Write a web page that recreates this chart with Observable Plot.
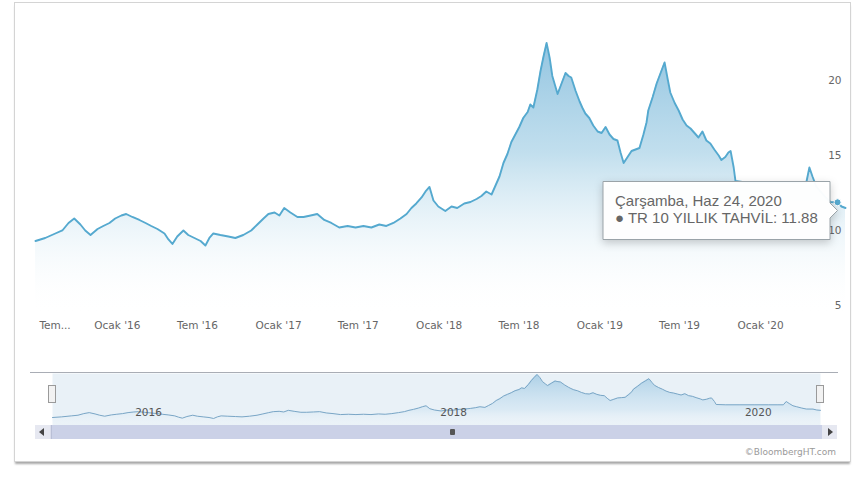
<!DOCTYPE html>
<html>
<head>
<meta charset="utf-8">
<script src="https://cdn.jsdelivr.net/npm/d3@7"></script>
<script src="https://cdn.jsdelivr.net/npm/@observablehq/plot@0.6"></script>
<style>
  html, body { margin: 0; padding: 0; background: #fff; }
  body { width: 857px; height: 483px; position: relative; overflow: hidden; font-family: "DejaVu Sans", sans-serif; }
  .abs { position: absolute; }
  #frame { left: 14px; top: 2px; width: 835px; height: 458px; border: 1px solid #d4d4d4; box-shadow: 0 3px 2px -1px #a8a8a8; }
  #main { left: 0; top: 0; }
  #nav { left: 0; top: 360px; }
  #navOutline { left: 30px; top: 372px; width: 808px; height: 52px; border-top: 1px solid #a9adb5; }
  .handle { width: 6px; height: 16px; top: 385px; background: #f2f2f2; border: 1px solid #9a9a9a; }
  #scroll { left: 35px; top: 425px; width: 802px; height: 14px; background: #d9dceb; }
  #thumb { left: 16px; top: 0; width: 770px; height: 14px; background: #cbd1e7; border-left: 1px solid #b9bfd6; border-right: 1px solid #b9bfd6; }
  .btn { top: 0; width: 15px; height: 14px; background: #e6e8f1; }
  .tri-l { left: 4px; top: 3px; width: 0; height: 0; border-top: 4px solid transparent; border-bottom: 4px solid transparent; border-right: 5px solid #444; }
  .tri-r { left: 6px; top: 3px; width: 0; height: 0; border-top: 4px solid transparent; border-bottom: 4px solid transparent; border-left: 5px solid #444; }
  #grip { left: 398px; top: 4px; width: 5px; height: 6px; background: #555; border-radius: 1px; }
  #credits { right: 21px; top: 447px; font-size: 9px; color: #9a9a9a; font-family: "DejaVu Sans", sans-serif; }
</style>
</head>
<body>
<div id="frame" class="abs"></div>
<div id="navOutline" class="abs"></div>
<div id="main" class="abs"></div>
<div id="nav" class="abs"></div>
<div class="abs handle" style="left:48px"></div>
<div class="abs handle" style="left:816px"></div>
<div id="scroll" class="abs">
  <div id="thumb" class="abs"><div id="grip" class="abs"></div></div>
  <div class="abs btn" style="left:0"><div class="abs tri-l"></div></div>
  <div class="abs btn" style="left:787px"><div class="abs tri-r"></div></div>
</div>
<div id="credits" class="abs">©BloombergHT.com</div>
<script>
// ---- Data: TR 10 YILLIK TAHVİL (%) ----
const dates = [
"2015-06-29","2015-07-21","2015-08-13","2015-08-29","2015-09-12","2015-09-25","2015-10-09","2015-10-20","2015-11-01","2015-11-17",
"2015-11-30","2015-12-14","2015-12-27","2016-01-10","2016-01-21","2016-02-04","2016-02-20","2016-03-05","2016-03-18","2016-04-01",
"2016-04-17","2016-04-26","2016-05-05","2016-05-16","2016-05-30","2016-06-10","2016-06-24","2016-07-08","2016-07-19","2016-07-28",
"2016-08-06","2016-08-22","2016-09-09","2016-09-25","2016-10-13","2016-10-31","2016-11-14","2016-11-28","2016-12-09","2016-12-23",
"2017-01-03","2017-01-14","2017-01-28","2017-02-13","2017-02-27","2017-03-15","2017-03-30","2017-04-15","2017-05-01","2017-05-19",
"2017-06-07","2017-06-25","2017-07-13","2017-07-31","2017-08-18","2017-09-03","2017-09-19","2017-10-05","2017-10-19","2017-10-30",
"2017-11-10","2017-11-22","2017-12-01","2017-12-10","2017-12-19","2017-12-30","2018-01-15","2018-01-29","2018-02-11","2018-02-27",
"2018-03-13","2018-03-27","2018-04-07","2018-04-18","2018-04-30","2018-05-09","2018-05-18","2018-05-27","2018-06-05","2018-06-14",
"2018-06-23","2018-07-02","2018-07-11","2018-07-21","2018-07-27","2018-08-03","2018-08-12","2018-08-19","2018-08-26","2018-09-02",
"2018-09-09","2018-09-15","2018-09-22","2018-09-27","2018-10-06","2018-10-15","2018-10-22","2018-10-28","2018-11-07","2018-11-16",
"2018-11-22","2018-11-29","2018-12-08","2018-12-17","2018-12-27","2019-01-05","2019-01-14","2019-01-23","2019-02-01","2019-02-10",
"2019-02-17","2019-02-24","2019-03-05","2019-03-14","2019-03-23","2019-04-01","2019-04-10","2019-04-17","2019-04-21","2019-05-01",
"2019-05-10","2019-05-19","2019-05-28","2019-06-04","2019-06-10","2019-06-20","2019-06-29","2019-07-08","2019-07-17","2019-07-26",
"2019-08-04","2019-08-13","2019-08-22","2019-08-31","2019-09-09","2019-09-18","2019-09-28","2019-10-04","2019-10-13","2019-10-20",
"2019-10-25","2019-11-01","2019-11-05","2019-11-28","2020-01-01","2020-02-04","2020-03-09","2020-04-01","2020-04-14","2020-04-21",
"2020-04-28","2020-05-07","2020-05-16","2020-05-28","2020-06-08","2020-06-24","2020-07-03","2020-07-12"
];
const values = [
9.3,9.5,9.8,10.0,10.5,10.8,10.4,10.0,9.7,10.1,
10.3,10.5,10.8,11.0,11.1,10.9,10.7,10.5,10.3,10.1,
9.8,9.4,9.1,9.6,10.0,9.7,9.5,9.3,9.0,9.5,
9.8,9.7,9.6,9.5,9.7,10.0,10.4,10.8,11.1,11.2,
11.0,11.5,11.2,10.9,10.9,11.0,11.1,10.7,10.5,10.2,
10.3,10.2,10.3,10.2,10.4,10.3,10.5,10.8,11.1,11.5,
11.8,12.2,12.6,12.9,12.0,11.6,11.3,11.6,11.5,11.8,
11.9,12.1,12.3,12.6,12.4,13.0,13.6,14.5,15.1,15.9,
16.4,16.9,17.5,17.9,18.4,18.2,19.4,20.6,21.6,22.5,
21.5,20.3,19.6,19.1,19.8,20.5,20.3,20.2,19.3,18.6,
18.2,17.8,17.5,17.0,16.6,16.5,16.9,16.4,16.1,16.0,
15.2,14.5,14.9,15.3,15.4,15.5,16.4,17.2,18.0,18.9,
19.8,20.5,21.2,20.1,19.2,18.5,18.0,17.4,17.0,16.8,
16.5,16.2,16.6,16.0,15.8,15.4,15.0,14.7,14.9,15.2,
15.3,14.2,13.3,13.2,13.2,13.2,13.2,13.2,13.2,14.2,
13.6,12.9,12.6,12.2,11.9,11.88,11.6,11.5
];
const xTickDates = ["2015-07-01","2016-01-01","2016-07-01","2017-01-01","2017-07-01","2018-01-01","2018-07-01","2019-01-01","2019-07-01","2020-01-01"];
const xTickLabels = ["Tem...","Ocak '16","Tem '16","Ocak '17","Tem '17","Ocak '18","Tem '18","Ocak '19","Tem '19","Ocak '20"];
const yTicks = [5, 10, 15, 20];
const navTickDates = ["2016-01-01","2018-01-01","2020-01-01"];
const navTickLabels = ["2016","2018","2020"];
const seriesName = "TR 10 YILLIK TAHVİL";
const tipDate = "2020-06-24";
const tipDateLabel = "Çarşamba, Haz 24, 2020";
const tipValue = 11.88;

// ---- build tables ----
const data = dates.map((d, i) => ({date: new Date(d), value: values[i]}));
const xTicks = xTickDates.map((d, i) => ({date: new Date(d), label: xTickLabels[i]}));
const navTicks = navTickDates.map((d, i) => ({date: new Date(d), label: navTickLabels[i]}));
const tip = [{date: new Date(tipDate), value: tipValue}];
const xDomain = d3.extent(data, d => d.date);

const lineColor = "#55a9cf";

function addGradient(svg, id, y1, y2, stops) {
  const defs = d3.select(svg).insert("defs", ":first-child");
  const g = defs.append("linearGradient").attr("id", id)
    .attr("gradientUnits", "userSpaceOnUse")
    .attr("x1", 0).attr("x2", 0).attr("y1", y1).attr("y2", y2);
  for (const [o, c, a] of stops) g.append("stop").attr("offset", o).attr("stop-color", c).attr("stop-opacity", a);
}

// ---- main chart ----
const main = Plot.plot({
  width: 857, height: 345,
  marginLeft: 35, marginRight: 12, marginTop: 20, marginBottom: 30,
  style: {fontFamily: "DejaVu Sans, sans-serif", fontSize: "10.5px", color: "#666", background: "transparent", overflow: "visible"},
  x: {type: "utc", domain: xDomain, axis: null},
  y: {domain: [4.333, 24], axis: null},
  marks: [
    Plot.areaY(data, {x: "date", y: "value", fill: "url(#mainGrad)", clip: true, curve: "linear"}),
    Plot.lineY(data, {x: "date", y: "value", stroke: lineColor, strokeWidth: 1.9, curve: "linear"}),
    Plot.text(xTicks.slice(1), {x: "date", text: "label", frameAnchor: "bottom", dy: 13, fill: "#666"}),
    Plot.text(xTicks.slice(0, 1), {x: "date", text: "label", frameAnchor: "bottom", dy: 13, dx: 3, textAnchor: "start", fill: "#666"}),
    Plot.text(yTicks, {y: d => d, text: d => String(d), frameAnchor: "right", dx: -4, textAnchor: "end", fill: "#666"}),
    Plot.dot(tip, {x: "date", y: "value", r: 3.5, fill: lineColor, stroke: "white", strokeWidth: 1}),
    Plot.tip(tip, {
      x: "date", y: "value", anchor: "right", dy: 8, pointerSize: 15,
      title: d => `${tipDateLabel}\n● ${seriesName}: ${d.value.toFixed(2)}`,
      fontSize: 15, fontFamily: "Liberation Sans, Arial, sans-serif", lineHeight: 1.15, textPadding: 12,
      fill: "white", stroke: "#9aa3a8", fillOpacity: 0.97
    })
  ]
});
addGradient(main, "mainGrad", 20, 315, [[0, "#6aaed5", 0.8], [0.45, "#98c9e2", 0.6], [0.75, "#c9e3f0", 0.25], [1, "#ffffff", 0]]);
document.getElementById("main").appendChild(main);

// ---- navigator ----
const nav = Plot.plot({
  width: 857, height: 70,
  marginLeft: 52, marginRight: 37, marginTop: 13, marginBottom: 5,
  style: {fontFamily: "DejaVu Sans, sans-serif", fontSize: "10.5px", color: "#555", background: "transparent", overflow: "visible"},
  x: {type: "utc", domain: xDomain, axis: null},
  y: {domain: [6.85, 22.8], axis: null},
  marks: [
    Plot.frame({fill: "#e4eef5", fillOpacity: 0.8}),
    Plot.areaY(data, {x: "date", y: "value", fill: "url(#navGrad)", clip: true}),
    Plot.lineY(data, {x: "date", y: "value", stroke: "#7aa6c6", strokeWidth: 1}),
    Plot.text(navTicks, {x: "date", text: "label", frameAnchor: "bottom", dy: -10, dx: 5, textAnchor: "start", fill: "#555"})
  ]
});
addGradient(nav, "navGrad", 13, 65, [[0, "#8fc0de", 0.7], [0.7, "#c3def0", 0.4], [1, "#ffffff", 0.1]]);
document.getElementById("nav").appendChild(nav);
</script>
</body>
</html>
